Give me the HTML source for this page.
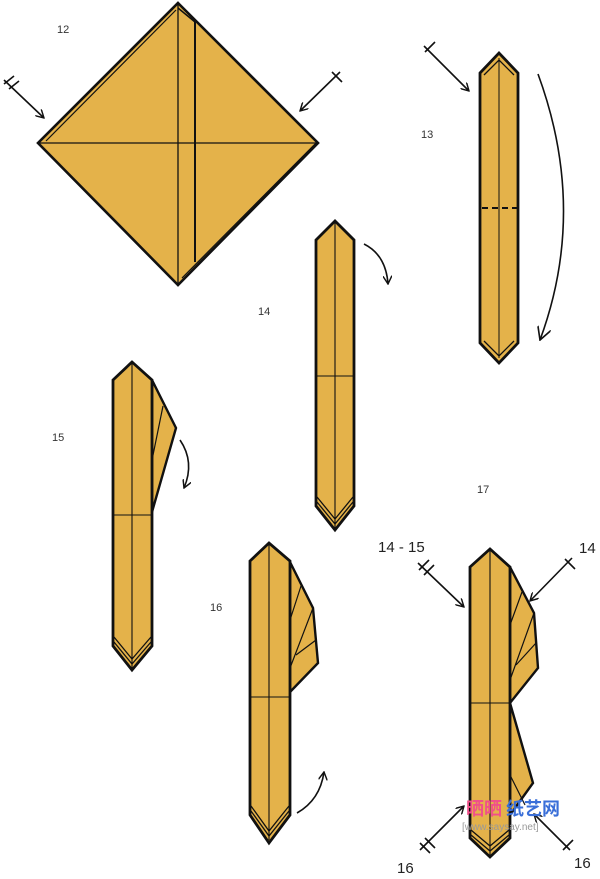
<!DOCTYPE html>
<html><head><meta charset="utf-8"><style>
html,body{margin:0;padding:0;background:#fff;}
svg{display:block;}
text{font-family:"Liberation Sans","Noto Sans CJK SC",sans-serif;}
</style></head><body>
<svg width="600" height="879" viewBox="0 0 600 879" xmlns="http://www.w3.org/2000/svg">
<defs>
<marker id="ah" viewBox="0 0 10 10" refX="9" refY="5" markerWidth="9" markerHeight="9" orient="auto" markerUnits="userSpaceOnUse">
<path d="M0,0 L9,5 L0,10" fill="none" stroke="#111" stroke-width="1.6"/>
</marker>
<marker id="ah2" viewBox="0 0 12 12" refX="11" refY="6" markerWidth="14" markerHeight="14" orient="auto" markerUnits="userSpaceOnUse">
<path d="M0,0 L11,6 L0,12" fill="none" stroke="#111" stroke-width="1.4"/>
</marker>
</defs>
<g fill="#e4b24a" stroke="#111" stroke-linejoin="miter">

<!-- Step 12 diamond -->
<polygon points="178,3 318,143 178,285 38,143" stroke-width="2.6"/>
<line x1="38" y1="143" x2="318" y2="143" stroke-width="1.3"/>
<line x1="178" y1="3" x2="178" y2="285" stroke-width="1.3"/>
<line x1="195" y1="22" x2="195" y2="262" stroke-width="2"/>
<line x1="178" y1="8" x2="195" y2="22" stroke-width="1.5"/>
<line x1="182" y1="278" x2="316" y2="143" stroke-width="1.2"/>
<line x1="46" y1="141" x2="176" y2="10" stroke-width="1.2"/>

<!-- Step 13 -->
<polygon points="480,73 499,53 518,73 518,343 499,363 480,343" stroke-width="2.8"/>
<polyline points="484,75 499,60 514,75" fill="none" stroke-width="1.3"/>
<polyline points="484,341 499,356 514,341" fill="none" stroke-width="1.3"/>
<line x1="499" y1="58" x2="499" y2="358" stroke-width="1"/>
<line x1="482" y1="208" x2="517" y2="208" stroke-width="2" stroke-dasharray="6,4" fill="none"/>

<!-- Step 14 -->
<polygon points="316,240 335,221 354,240 354,506 335,530 316,506" stroke-width="2.8"/>
<line x1="335" y1="222" x2="335" y2="528" stroke-width="1.1"/>
<line x1="316" y1="376" x2="354" y2="376" stroke-width="1.1"/>
<polyline points="317,497 335,519 353,497" fill="none" stroke-width="1.3"/>
<polyline points="317,502 335,524 353,502" fill="none" stroke-width="1.3"/>

<!-- Step 15 -->
<polygon points="152,380 176,428 152,512" stroke-width="2.4"/>
<line x1="152" y1="460" x2="163" y2="406" stroke-width="1.2"/>
<polygon points="113,380 132,362 152,380 152,646 132,670 113,646" stroke-width="2.8"/>
<line x1="132" y1="363" x2="132" y2="668" stroke-width="1.1"/>
<line x1="113" y1="515" x2="152" y2="515" stroke-width="1.1"/>
<polyline points="114,637 132,659 151,637" fill="none" stroke-width="1.3"/>
<polyline points="114,642 132,664 151,642" fill="none" stroke-width="1.3"/>

<!-- Step 16 -->
<polygon points="290,562 313,608 318,663 290,692" stroke-width="2.4"/>
<line x1="290" y1="620" x2="301" y2="586" stroke-width="1.2"/>
<line x1="290" y1="668" x2="313" y2="608" stroke-width="1.2"/>
<line x1="296" y1="655" x2="316" y2="640" stroke-width="1.2"/>
<polygon points="250,561 269,543 290,561 290,815 269,843 250,815" stroke-width="2.8"/>
<line x1="269" y1="544" x2="269" y2="840" stroke-width="1.1"/>
<line x1="250" y1="697" x2="290" y2="697" stroke-width="1.1"/>
<polyline points="251,806 269,831 289,806" fill="none" stroke-width="1.3"/>
<polyline points="251,811 269,836 289,811" fill="none" stroke-width="1.3"/>

<!-- Step 17 -->
<polygon points="510,567 534,613 538,668 510,703" stroke-width="2.4"/>
<line x1="510" y1="625" x2="522" y2="592" stroke-width="1.2"/>
<line x1="510" y1="680" x2="534" y2="613" stroke-width="1.2"/>
<line x1="516" y1="665" x2="536" y2="643" stroke-width="1.2"/>
<polygon points="510,703 533,783 510,815" stroke-width="2.4"/>
<line x1="510" y1="775" x2="525" y2="805" stroke-width="1.2"/>
<polygon points="470,567 490,549 510,567 510,838 490,857 470,838" stroke-width="2.8"/>
<line x1="490" y1="550" x2="490" y2="855" stroke-width="1.1"/>
<line x1="470" y1="703" x2="510" y2="703" stroke-width="1.1"/>
<polyline points="471,830 490,846 509,830" fill="none" stroke-width="1.3"/>
<polyline points="471,835 490,851 509,835" fill="none" stroke-width="1.3"/>
</g>

<g fill="none" stroke="#111" stroke-width="1.6">
<line x1="4" y1="80" x2="44" y2="118" marker-end="url(#ah)"/>
<line x1="4" y1="84" x2="14" y2="76"/><line x1="9" y1="89" x2="19" y2="81"/>
<line x1="340" y1="72" x2="300" y2="111" marker-end="url(#ah)"/>
<line x1="332" y1="72" x2="342" y2="82"/>
<line x1="424" y1="46" x2="469" y2="91" marker-end="url(#ah)"/>
<line x1="425" y1="52" x2="435" y2="42"/>
<path d="M538,74 Q588,210 540,340" marker-end="url(#ah2)"/>
<path d="M364,244 Q386,255 388,284" marker-end="url(#ah)"/>
<path d="M180,440 Q195,462 184,488" marker-end="url(#ah)"/>
<path d="M297,813 Q320,800 324,772" marker-end="url(#ah)"/>
<line x1="418" y1="563" x2="464" y2="607" marker-end="url(#ah)"/>
<line x1="419" y1="570" x2="429" y2="560"/><line x1="424" y1="575" x2="434" y2="565"/>
<line x1="572" y1="558" x2="530" y2="601" marker-end="url(#ah)"/>
<line x1="565" y1="559" x2="575" y2="569"/>
<line x1="420" y1="850" x2="464" y2="806" marker-end="url(#ah)"/>
<line x1="420" y1="843" x2="430" y2="853"/><line x1="425" y1="838" x2="435" y2="848"/>
<line x1="570" y1="850" x2="534" y2="814" marker-end="url(#ah)"/>
<line x1="563" y1="850" x2="573" y2="840"/>
</g>

<g fill="#333" font-size="11">
<text x="57" y="33">12</text>
<text x="421" y="138">13</text>
<text x="258" y="315">14</text>
<text x="52" y="441">15</text>
<text x="210" y="611">16</text>
<text x="477" y="493">17</text>
</g>
<g fill="#222" font-size="15">
<text x="378" y="552">14 - 15</text>
<text x="579" y="553">14</text>
<text x="397" y="873">16</text>
<text x="574" y="868">16</text>
</g>
<text x="466" y="815" font-size="18" font-weight="bold" fill="#f0508a" font-family="'Noto Sans CJK SC',sans-serif">晒晒</text>
<text x="506" y="815" font-size="18" font-weight="bold" fill="#3a6fd8" font-family="'Noto Sans CJK SC',sans-serif">纸艺网</text>
<text x="462" y="830" font-size="10" fill="#999">[www.saysay.net]</text>
</svg>
</body></html>
